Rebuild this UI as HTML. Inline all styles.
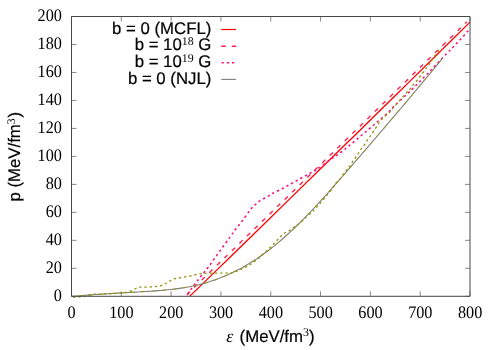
<!DOCTYPE html>
<html><head><meta charset="utf-8"><title>plot</title>
<style>html,body{margin:0;padding:0;background:#fff;overflow:hidden}svg{display:block;will-change:transform}text{font-kerning:none;text-rendering:geometricPrecision}</style>
</head><body>
<svg width="500" height="350" viewBox="0 0 500 350">
<rect width="500" height="350" fill="#fff"/>
<path d="M71.50,296.3 v-5 M71.50,16.5 v5 M121.31,296.3 v-5 M121.31,16.5 v5 M171.12,296.3 v-5 M171.12,16.5 v5 M220.94,296.3 v-5 M220.94,16.5 v5 M270.75,296.3 v-5 M270.75,16.5 v5 M320.56,296.3 v-5 M320.56,16.5 v5 M370.38,296.3 v-5 M370.38,16.5 v5 M420.19,296.3 v-5 M420.19,16.5 v5 M470.00,296.3 v-5 M470.00,16.5 v5 M71.5,296.30 h5 M470.0,296.30 h-5 M71.5,268.32 h5 M470.0,268.32 h-5 M71.5,240.34 h5 M470.0,240.34 h-5 M71.5,212.36 h5 M470.0,212.36 h-5 M71.5,184.38 h5 M470.0,184.38 h-5 M71.5,156.40 h5 M470.0,156.40 h-5 M71.5,128.42 h5 M470.0,128.42 h-5 M71.5,100.44 h5 M470.0,100.44 h-5 M71.5,72.46 h5 M470.0,72.46 h-5 M71.5,44.48 h5 M470.0,44.48 h-5 M71.5,16.50 h5 M470.0,16.50 h-5" stroke="#484848" stroke-width="0.65" fill="none"/>
<g fill="none" stroke-linejoin="round">
<path d="M189.60,296.30 C191.33,294.65 193.27,292.91 200.00,286.39 C206.73,279.87 220.00,266.92 230.00,257.18 C240.00,247.44 250.00,237.69 260.00,227.93 C270.00,218.18 280.00,208.42 290.00,198.65 C300.00,188.88 310.00,179.11 320.00,169.33 C330.00,159.55 340.00,149.76 350.00,139.97 C360.00,130.17 370.00,120.38 380.00,110.57 C390.00,100.77 400.00,90.95 410.00,81.14 C420.00,71.32 430.00,61.49 440.00,51.66 C450.00,41.83 465.00,27.07 470.00,22.16" stroke="#ff0000" stroke-width="1.3"/>
<path d="M187.00,294.90 C188.36,293.48 188.76,292.68 195.14,286.39 C201.52,280.10 215.23,266.92 225.27,257.18 C235.31,247.44 245.36,237.69 255.40,227.93 C265.44,218.18 275.49,208.42 285.53,198.65 C295.57,188.88 305.61,179.11 315.66,169.33 C325.70,159.55 335.74,149.76 345.79,139.97 C355.83,130.17 365.87,120.38 375.91,110.57 C385.96,100.77 396.00,90.95 406.04,81.14 C416.09,71.32 426.05,61.55 436.17,51.66 C446.30,41.78 461.70,26.78 466.80,21.80" stroke="#ff2050" stroke-width="1.4" stroke-dasharray="4.4 6.1"/>
<path d="M187.50,294.00 C189.25,291.67 194.50,284.53 198.00,280.00 C201.50,275.47 204.92,271.55 208.50,266.80 C212.08,262.05 215.88,256.50 219.50,251.50 C223.12,246.50 227.45,240.58 230.20,236.80 C232.95,233.02 233.95,231.52 236.00,228.80 C238.05,226.08 240.38,223.30 242.50,220.50 C244.62,217.70 247.15,214.08 248.70,212.00 C250.25,209.92 250.67,209.25 251.80,208.00 C252.93,206.75 254.22,205.63 255.50,204.50 C256.78,203.37 258.08,202.20 259.50,201.20 C260.92,200.20 262.47,199.40 264.00,198.50 C265.53,197.60 267.20,196.68 268.70,195.80 C270.20,194.92 270.70,194.42 273.00,193.20 C275.30,191.98 279.42,190.12 282.50,188.50 C285.58,186.88 288.50,185.17 291.50,183.50 C294.50,181.83 297.50,180.17 300.50,178.50 C303.50,176.83 306.58,175.13 309.50,173.50 C312.42,171.87 314.42,171.12 318.00,168.70 C321.58,166.28 327.33,161.62 331.00,159.00 C334.67,156.38 337.13,155.08 340.00,153.00 C342.87,150.92 345.53,148.67 348.20,146.50 C350.87,144.33 353.37,142.22 356.00,140.00 C358.63,137.78 361.33,135.45 364.00,133.20 C366.67,130.95 369.33,128.78 372.00,126.50 C374.67,124.22 377.37,121.78 380.00,119.50 C382.63,117.22 385.33,115.13 387.80,112.80 C390.27,110.47 391.68,108.55 394.80,105.50 C397.92,102.45 403.30,97.50 406.50,94.50 C409.70,91.50 411.55,89.92 414.00,87.50 C416.45,85.08 418.78,82.45 421.20,80.00 C423.62,77.55 426.62,74.72 428.50,72.80 C430.38,70.88 429.50,71.67 432.50,68.50 C435.50,65.33 442.92,57.52 446.50,53.80 C450.08,50.08 451.58,48.70 454.00,46.20 C456.42,43.70 458.63,41.37 461.00,38.80 C463.37,36.23 467.00,32.13 468.20,30.80" stroke="#ff0a78" stroke-width="1.5" stroke-dasharray="2.3 3.0"/>
<path d="M71.50,296.30 C72.58,296.24 76.08,296.08 78.00,295.95 C79.92,295.81 81.33,295.65 83.00,295.51 C84.67,295.37 86.33,295.23 88.00,295.10 C89.67,294.97 91.33,294.84 93.00,294.72 C94.67,294.60 96.33,294.48 98.00,294.37 C99.67,294.25 101.33,294.14 103.00,294.03 C104.67,293.92 106.33,293.82 108.00,293.71 C109.67,293.61 111.33,293.51 113.00,293.41 C114.67,293.31 116.33,293.21 118.00,293.11 C119.67,293.01 121.33,292.92 123.00,292.82 C124.67,292.73 126.33,292.63 128.00,292.54 C129.67,292.44 131.33,292.35 133.00,292.25 C134.67,292.15 136.33,292.06 138.00,291.96 C139.67,291.86 141.33,291.77 143.00,291.67 C144.67,291.57 146.33,291.46 148.00,291.36 C149.67,291.25 151.33,291.15 153.00,291.03 C154.67,290.92 156.33,290.80 158.00,290.67 C159.67,290.54 161.33,290.41 163.00,290.26 C164.67,290.12 166.33,289.96 168.00,289.79 C169.67,289.63 171.33,289.45 173.00,289.25 C174.67,289.05 176.33,288.85 178.00,288.62 C179.67,288.39 181.33,288.15 183.00,287.88 C184.67,287.62 186.33,287.34 188.00,287.03 C189.67,286.72 191.33,286.40 193.00,286.05 C194.67,285.70 196.33,285.32 198.00,284.92 C199.67,284.52 201.33,284.10 203.00,283.64 C204.67,283.19 206.33,282.70 208.00,282.19 C209.67,281.68 211.33,281.14 213.00,280.58 C214.67,280.01 216.33,279.42 218.00,278.79 C219.67,278.17 221.33,277.51 223.00,276.83 C224.67,276.14 226.33,275.43 228.00,274.69 C229.67,273.95 231.33,273.17 233.00,272.37 C234.67,271.56 236.33,270.73 238.00,269.86 C239.67,269.00 241.33,268.10 243.00,267.17 C244.67,266.24 246.33,265.28 248.00,264.29 C249.67,263.29 251.33,262.27 253.00,261.21 C254.67,260.15 256.33,259.06 258.00,257.93 C259.67,256.81 261.33,255.65 263.00,254.46 C264.67,253.26 266.33,252.04 268.00,250.78 C269.67,249.52 271.33,248.22 273.00,246.89 C274.67,245.56 276.33,244.19 278.00,242.80 C279.67,241.40 281.33,239.96 283.00,238.50 C284.67,237.03 286.33,235.53 288.00,234.00 C289.67,232.48 291.33,230.92 293.00,229.34 C294.67,227.75 296.33,226.14 298.00,224.50 C299.67,222.87 301.33,221.20 303.00,219.52 C304.67,217.83 306.33,216.12 308.00,214.40 C309.67,212.67 311.33,210.92 313.00,209.15 C314.67,207.38 316.33,205.59 318.00,203.78 C319.67,201.98 321.33,200.16 323.00,198.32 C324.67,196.49 326.33,194.64 328.00,192.78 C329.67,190.91 331.33,189.04 333.00,187.15 C334.67,185.27 336.33,183.37 338.00,181.47 C339.67,179.57 341.33,177.66 343.00,175.74 C344.67,173.82 346.33,171.90 348.00,169.98 C349.67,168.05 351.33,166.12 353.00,164.19 C354.67,162.26 356.33,160.33 358.00,158.39 C359.67,156.46 361.33,154.53 363.00,152.59 C364.67,150.66 366.33,148.72 368.00,146.79 C369.67,144.85 371.33,142.91 373.00,140.97 C374.67,139.03 376.33,137.09 378.00,135.15 C379.67,133.20 381.33,131.26 383.00,129.31 C384.67,127.36 386.33,125.41 388.00,123.46 C389.67,121.51 391.33,119.55 393.00,117.59 C394.67,115.63 396.33,113.67 398.00,111.71 C399.67,109.74 401.33,107.78 403.00,105.81 C404.67,103.84 406.33,101.86 408.00,99.88 C409.67,97.91 411.33,95.92 413.00,93.94 C414.67,91.95 416.33,89.96 418.00,87.97 C419.67,85.97 421.33,83.97 423.00,81.97 C424.67,79.97 426.33,77.96 428.00,75.95 C429.67,73.93 431.33,71.92 433.00,69.89 C434.67,67.87 436.33,65.84 438.00,63.81 C439.67,61.77 442.17,58.71 443.00,57.69" stroke="#808080" stroke-width="1.1"/>
<path d="M71.50,296.30 C72.58,296.24 76.08,296.08 78.00,295.95 C79.92,295.81 81.33,295.65 83.00,295.51 C84.67,295.37 86.33,295.23 88.00,295.10 C89.67,294.97 91.33,294.84 93.00,294.72 C94.67,294.60 96.33,294.48 98.00,294.37 C99.67,294.25 101.33,294.14 103.00,294.03 C104.67,293.92 106.33,293.82 108.00,293.71 C109.67,293.61 111.33,293.51 113.00,293.41 C114.67,293.31 116.33,293.21 118.00,293.11 C119.67,293.01 121.33,292.92 123.00,292.82 C124.67,292.73 126.33,292.63 128.00,292.54 C129.67,292.44 131.33,292.35 133.00,292.25 C134.67,292.15 136.33,292.06 138.00,291.96 C139.67,291.86 141.33,291.77 143.00,291.67 C144.67,291.57 146.33,291.46 148.00,291.36 C149.67,291.25 151.33,291.15 153.00,291.03 C154.67,290.92 156.33,290.80 158.00,290.67 C159.67,290.54 161.33,290.41 163.00,290.26 C164.67,290.12 166.33,289.96 168.00,289.79 C169.67,289.63 171.33,289.45 173.00,289.25 C174.67,289.05 176.33,288.85 178.00,288.62 C179.67,288.39 181.33,288.15 183.00,287.88 C184.67,287.62 186.33,287.34 188.00,287.03 C189.67,286.72 191.33,286.40 193.00,286.05 C194.67,285.70 196.33,285.32 198.00,284.92 C199.67,284.52 201.33,284.10 203.00,283.64 C204.67,283.19 206.33,282.70 208.00,282.19 C209.67,281.68 211.33,281.14 213.00,280.58 C214.67,280.01 216.33,279.42 218.00,278.79 C219.67,278.17 221.33,277.51 223.00,276.83 C224.67,276.14 226.33,275.43 228.00,274.69 C229.67,273.95 231.33,273.17 233.00,272.37 C234.67,271.56 236.33,270.73 238.00,269.86 C239.67,269.00 241.33,268.10 243.00,267.17 C244.67,266.24 246.33,265.28 248.00,264.29 C249.67,263.29 251.33,262.27 253.00,261.21 C254.67,260.15 256.33,259.06 258.00,257.93 C259.67,256.81 261.33,255.65 263.00,254.46 C264.67,253.26 266.33,252.04 268.00,250.78 C269.67,249.52 271.33,248.22 273.00,246.89 C274.67,245.56 276.33,244.19 278.00,242.80 C279.67,241.40 281.33,239.96 283.00,238.50 C284.67,237.03 286.33,235.53 288.00,234.00 C289.67,232.48 291.33,230.92 293.00,229.34 C294.67,227.75 296.33,226.14 298.00,224.50 C299.67,222.87 301.33,221.20 303.00,219.52 C304.67,217.83 306.33,216.12 308.00,214.40 C309.67,212.67 311.33,210.92 313.00,209.15 C314.67,207.38 316.33,205.59 318.00,203.78 C319.67,201.98 321.33,200.16 323.00,198.32 C324.67,196.49 326.33,194.64 328.00,192.78 C329.67,190.91 331.33,189.04 333.00,187.15 C334.67,185.27 336.33,183.37 338.00,181.47 C339.67,179.57 341.33,177.66 343.00,175.74 C344.67,173.82 346.33,171.90 348.00,169.98 C349.67,168.05 351.33,166.12 353.00,164.19 C354.67,162.26 356.33,160.33 358.00,158.39 C359.67,156.46 361.33,154.53 363.00,152.59 C364.67,150.66 366.33,148.72 368.00,146.79 C369.67,144.85 371.33,142.91 373.00,140.97 C374.67,139.03 376.33,137.09 378.00,135.15 C379.67,133.20 381.33,131.26 383.00,129.31 C384.67,127.36 386.33,125.41 388.00,123.46 C389.67,121.51 391.33,119.55 393.00,117.59 C394.67,115.63 396.33,113.67 398.00,111.71 C399.67,109.74 401.33,107.78 403.00,105.81 C404.67,103.84 406.33,101.86 408.00,99.88 C409.67,97.91 411.33,95.92 413.00,93.94 C414.67,91.95 416.33,89.96 418.00,87.97 C419.67,85.97 421.33,83.97 423.00,81.97 C424.67,79.97 426.33,77.96 428.00,75.95 C429.67,73.93 431.33,71.92 433.00,69.89 C434.67,67.87 436.33,65.84 438.00,63.81 C439.67,61.77 442.17,58.71 443.00,57.69" stroke="#949410" stroke-width="0.8" stroke-dasharray="4.4 6.1" stroke-dashoffset="-6.5"/>
<path d="M73.00,297.30 C74.17,297.22 78.00,297.05 80.00,296.80 C82.00,296.55 83.42,296.10 85.00,295.80 C86.58,295.50 88.00,295.27 89.50,295.00 C91.00,294.73 92.42,294.32 94.00,294.20 C95.58,294.08 97.33,294.37 99.00,294.30 C100.67,294.23 102.25,293.88 104.00,293.80 C105.75,293.72 107.67,293.85 109.50,293.80 C111.33,293.75 113.25,293.60 115.00,293.50 C116.75,293.40 118.17,293.37 120.00,293.20 C121.83,293.03 124.25,292.83 126.00,292.50 C127.75,292.17 129.08,291.75 130.50,291.20 C131.92,290.65 133.17,289.85 134.50,289.20 C135.83,288.55 137.00,287.63 138.50,287.30 C140.00,286.97 141.75,287.25 143.50,287.20 C145.25,287.15 147.25,287.08 149.00,287.00 C150.75,286.92 152.42,286.83 154.00,286.70 C155.58,286.57 157.00,286.52 158.50,286.20 C160.00,285.88 161.67,285.33 163.00,284.80 C164.33,284.27 165.33,283.63 166.50,283.00 C167.67,282.37 168.68,281.70 170.00,281.00 C171.32,280.30 172.73,279.33 174.40,278.80 C176.07,278.27 177.40,278.27 180.00,277.80 C182.60,277.33 186.67,276.67 190.00,276.00 C193.33,275.33 196.67,274.27 200.00,273.80 C203.33,273.33 205.67,273.30 210.00,273.20 C214.33,273.10 222.42,273.23 226.00,273.20 C229.58,273.17 229.83,273.28 231.50,273.00 C233.17,272.72 234.50,272.05 236.00,271.50 C237.50,270.95 238.92,270.42 240.50,269.70 C242.08,268.98 243.92,268.03 245.50,267.20 C247.08,266.37 248.50,265.65 250.00,264.70 C251.50,263.75 253.00,262.62 254.50,261.50 C256.00,260.38 257.58,259.25 259.00,258.00 C260.42,256.75 261.67,255.25 263.00,254.00 C264.33,252.75 265.75,251.63 267.00,250.50 C268.25,249.37 269.33,248.32 270.50,247.20 C271.67,246.08 272.83,245.03 274.00,243.80 C275.17,242.57 276.33,241.10 277.50,239.80 C278.67,238.50 279.78,237.13 281.00,236.00 C282.22,234.87 283.47,233.83 284.80,233.00 C286.13,232.17 287.55,231.92 289.00,231.00 C290.45,230.08 292.00,228.58 293.50,227.50 C295.00,226.42 296.58,225.55 298.00,224.50 C299.42,223.45 300.75,222.32 302.00,221.20 C303.25,220.08 304.25,218.95 305.50,217.80 C306.75,216.65 308.25,215.43 309.50,214.30 C310.75,213.17 312.00,212.00 313.00,211.00 C314.00,210.00 314.53,209.35 315.50,208.30 C316.47,207.25 317.72,205.92 318.80,204.70 C319.88,203.48 320.88,202.28 322.00,201.00 C323.12,199.72 324.33,198.37 325.50,197.00 C326.67,195.63 327.67,194.47 329.00,192.80 C330.33,191.13 332.33,188.63 333.50,187.00 C334.67,185.37 335.00,184.25 336.00,183.00 C337.00,181.75 338.17,181.08 339.50,179.50 C340.83,177.92 342.67,175.25 344.00,173.50 C345.33,171.75 346.42,170.42 347.50,169.00 C348.58,167.58 349.55,166.37 350.50,165.00 C351.45,163.63 352.28,162.13 353.20,160.80 C354.12,159.47 355.20,158.13 356.00,157.00 C356.80,155.87 357.25,155.17 358.00,154.00 C358.75,152.83 359.58,151.30 360.50,150.00 C361.42,148.70 362.58,147.50 363.50,146.20 C364.42,144.90 365.13,143.53 366.00,142.20 C366.87,140.87 367.82,139.43 368.70,138.20 C369.58,136.97 370.42,136.08 371.30,134.80 C372.18,133.52 373.08,131.88 374.00,130.50 C374.92,129.12 375.88,127.88 376.80,126.50 C377.72,125.12 378.55,123.53 379.50,122.20 C380.45,120.87 381.33,119.70 382.50,118.50 C383.67,117.30 385.08,116.25 386.50,115.00 C387.92,113.75 389.75,112.33 391.00,111.00 C392.25,109.67 391.42,110.03 394.00,107.00 C396.58,103.97 403.83,95.80 406.50,92.80 C409.17,89.80 408.92,90.30 410.00,89.00 C411.08,87.70 411.92,86.33 413.00,85.00 C414.08,83.67 415.33,82.42 416.50,81.00 C417.67,79.58 418.83,78.00 420.00,76.50 C421.17,75.00 422.33,73.55 423.50,72.00 C424.67,70.45 425.83,68.78 427.00,67.20 C428.17,65.62 429.47,64.00 430.50,62.50 C431.53,61.00 432.25,59.62 433.20,58.20 C434.15,56.78 435.20,55.40 436.20,54.00 C437.20,52.60 438.70,50.50 439.20,49.80" stroke="#949410" stroke-width="1.3" stroke-dasharray="2.4 2.8"/>
</g>
<rect x="71.5" y="16.5" width="398.5" height="279.8" fill="none" stroke="#484848" stroke-width="1" stroke-linejoin="round"/>
<path d="M221.3,29.5 H236" stroke="#ff0000" stroke-width="1.2"/>
<path d="M221.3,46.15 H236.2" stroke="#ff2050" stroke-width="1.5" stroke-dasharray="4.5 6"/>
<path d="M221.6,62.800000000000004 H236" stroke="#ff0a78" stroke-width="1.4" stroke-dasharray="2.2 3"/>
<path d="M221.3,79.4 H236" stroke="#808080" stroke-width="1.1"/>
<g fill="#000">
<text x="211.4" y="33.6" text-anchor="end" font-family="Liberation Sans, sans-serif" font-size="16.8" stroke="#000" stroke-width="0.2">b = 0 (MCFL)</text>
<text x="211.4" y="50.2" text-anchor="end" font-family="Liberation Sans, sans-serif" font-size="16.8" stroke="#000" stroke-width="0.2">b = 10<tspan font-family="Liberation Serif, serif" font-size="11.9" dy="-5.4" stroke="none">18</tspan><tspan dy="5.4"> G</tspan></text>
<text x="211.4" y="66.9" text-anchor="end" font-family="Liberation Sans, sans-serif" font-size="16.8" stroke="#000" stroke-width="0.2">b = 10<tspan font-family="Liberation Serif, serif" font-size="11.9" dy="-5.4" stroke="none">19</tspan><tspan dy="5.4"> G</tspan></text>
<text x="211.4" y="83.6" text-anchor="end" font-family="Liberation Sans, sans-serif" font-size="16.8" stroke="#000" stroke-width="0.2">b = 0 (NJL)</text>
<text transform="translate(61.9,300.70) scale(0.92,1)" text-anchor="end" font-family="Liberation Serif, serif" font-size="17.6">0</text>
<text transform="translate(61.9,272.72) scale(0.92,1)" text-anchor="end" font-family="Liberation Serif, serif" font-size="17.6">20</text>
<text transform="translate(61.9,244.74) scale(0.92,1)" text-anchor="end" font-family="Liberation Serif, serif" font-size="17.6">40</text>
<text transform="translate(61.9,216.76) scale(0.92,1)" text-anchor="end" font-family="Liberation Serif, serif" font-size="17.6">60</text>
<text transform="translate(61.9,188.78) scale(0.92,1)" text-anchor="end" font-family="Liberation Serif, serif" font-size="17.6">80</text>
<text transform="translate(61.9,160.80) scale(0.92,1)" text-anchor="end" font-family="Liberation Serif, serif" font-size="17.6">100</text>
<text transform="translate(61.9,132.82) scale(0.92,1)" text-anchor="end" font-family="Liberation Serif, serif" font-size="17.6">120</text>
<text transform="translate(61.9,104.84) scale(0.92,1)" text-anchor="end" font-family="Liberation Serif, serif" font-size="17.6">140</text>
<text transform="translate(61.9,76.86) scale(0.92,1)" text-anchor="end" font-family="Liberation Serif, serif" font-size="17.6">160</text>
<text transform="translate(61.9,48.88) scale(0.92,1)" text-anchor="end" font-family="Liberation Serif, serif" font-size="17.6">180</text>
<text transform="translate(61.9,20.90) scale(0.92,1)" text-anchor="end" font-family="Liberation Serif, serif" font-size="17.6">200</text>
<text transform="translate(71.60,317.7) scale(0.92,1)" text-anchor="middle" font-family="Liberation Serif, serif" font-size="17.6">0</text>
<text transform="translate(121.41,317.7) scale(0.92,1)" text-anchor="middle" font-family="Liberation Serif, serif" font-size="17.6">100</text>
<text transform="translate(171.22,317.7) scale(0.92,1)" text-anchor="middle" font-family="Liberation Serif, serif" font-size="17.6">200</text>
<text transform="translate(221.04,317.7) scale(0.92,1)" text-anchor="middle" font-family="Liberation Serif, serif" font-size="17.6">300</text>
<text transform="translate(270.85,317.7) scale(0.92,1)" text-anchor="middle" font-family="Liberation Serif, serif" font-size="17.6">400</text>
<text transform="translate(320.66,317.7) scale(0.92,1)" text-anchor="middle" font-family="Liberation Serif, serif" font-size="17.6">500</text>
<text transform="translate(370.48,317.7) scale(0.92,1)" text-anchor="middle" font-family="Liberation Serif, serif" font-size="17.6">600</text>
<text transform="translate(420.29,317.7) scale(0.92,1)" text-anchor="middle" font-family="Liberation Serif, serif" font-size="17.6">700</text>
<text transform="translate(470.10,317.7) scale(0.92,1)" text-anchor="middle" font-family="Liberation Serif, serif" font-size="17.6">800</text>
<text x="226.3" y="341.6" font-family="Liberation Sans, sans-serif" font-size="16.8" stroke="#000" stroke-width="0.2"><tspan font-family="Liberation Serif, serif" font-style="italic" font-size="17.8" stroke="none">ε</tspan><tspan dx="1.6"> (MeV/fm</tspan><tspan font-family="Liberation Serif, serif" font-size="11.9" dy="-5.4" stroke="none">3</tspan><tspan dy="5.4">)</tspan></text>
<text transform="translate(20.1,201.6) rotate(-90)" font-family="Liberation Sans, sans-serif" font-size="16.8" stroke="#000" stroke-width="0.2">p (MeV/fm<tspan font-family="Liberation Serif, serif" font-size="11.9" dy="-5.4" stroke="none">3</tspan><tspan dy="5.4" dx="0.7">)</tspan></text>
</g>
</svg>
</body></html>
